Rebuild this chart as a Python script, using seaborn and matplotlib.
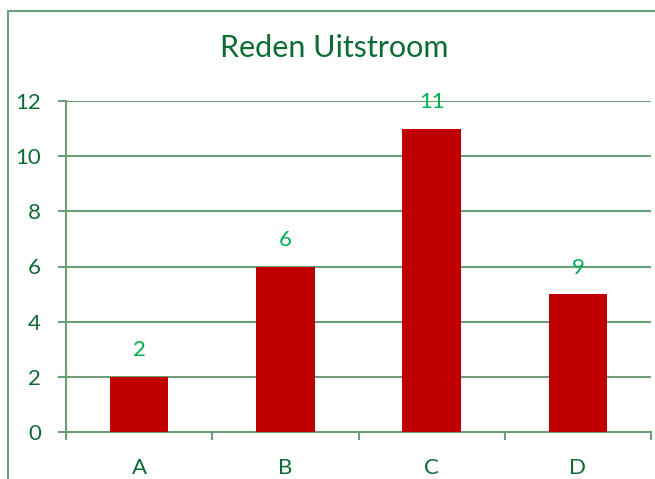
import matplotlib
matplotlib.use('Agg')
import matplotlib.pyplot as plt
import seaborn as sns
import pandas as pd
from matplotlib.patches import Rectangle

# dati del grafico
categorie = ['A', 'B', 'C', 'D']
valori = [2, 6, 11, 5]
etichette = ['2', '6', '11', '9']
titolo = 'Reden Uitstroom'

verde_scuro = '#0E6B34'
verde_griglia = '#6E9E78'
verde_label = '#00B050'
rosso = '#C00000'

sns.set_style('white')
plt.rcParams['font.family'] = ['Lato', 'DejaVu Sans']

df = pd.DataFrame({'categoria': categorie, 'valore': valori})

fig = plt.figure(figsize=(6.55, 4.79), dpi=100)
ax = fig.add_axes([66 / 655, 1 - 432 / 479, (651 - 66) / 655, (432 - 101) / 479])

sns.barplot(data=df, x='categoria', y='valore', color=rosso, width=0.4,
            saturation=1, linewidth=0, ax=ax, zorder=3)

ax.set_ylim(0, 12)
ax.set_xlim(-0.5, 3.5)
ax.set_yticks(range(0, 13, 2))
ax.yaxis.grid(True, color=verde_griglia, linewidth=1.5, zorder=0)
ax.set_axisbelow(True)
ax.set_xlabel('')
ax.set_ylabel('')

for s in ['top', 'right']:
    ax.spines[s].set_visible(False)
for s in ['left', 'bottom']:
    ax.spines[s].set_color(verde_griglia)
    ax.spines[s].set_linewidth(1.5)

ax.tick_params(axis='y', length=6, width=1.5, color=verde_griglia, pad=12,
               labelsize=16, labelcolor=verde_scuro, direction='out', left=True)
ax.tick_params(axis='x', which='major', length=0, pad=19, labelsize=16,
               labelcolor=verde_scuro)
ax.set_xticks([-0.5, 0.5, 1.5, 2.5, 3.5], minor=True)
ax.tick_params(axis='x', which='minor', length=6, width=1.5,
               color=verde_griglia, direction='out', bottom=True)

for i, testo in enumerate(etichette):
    ax.annotate(testo, (i, valori[i]), xytext=(0, 19), textcoords='offset points',
                ha='center', va='center', fontsize=16, color=verde_label,
                annotation_clip=False)

fig.text(334 / 655, 1 - 48 / 479, titolo, ha='center', va='center',
         fontsize=22, color=verde_scuro)

# cornice del grafico
fig.patches.append(Rectangle((7.5 / 655, -0.1), 1.2, 1 - 10.5 / 479 + 0.1,
                             transform=fig.transFigure, fill=False,
                             edgecolor=verde_griglia, linewidth=1.5))

fig.savefig('out.png', dpi=100)
